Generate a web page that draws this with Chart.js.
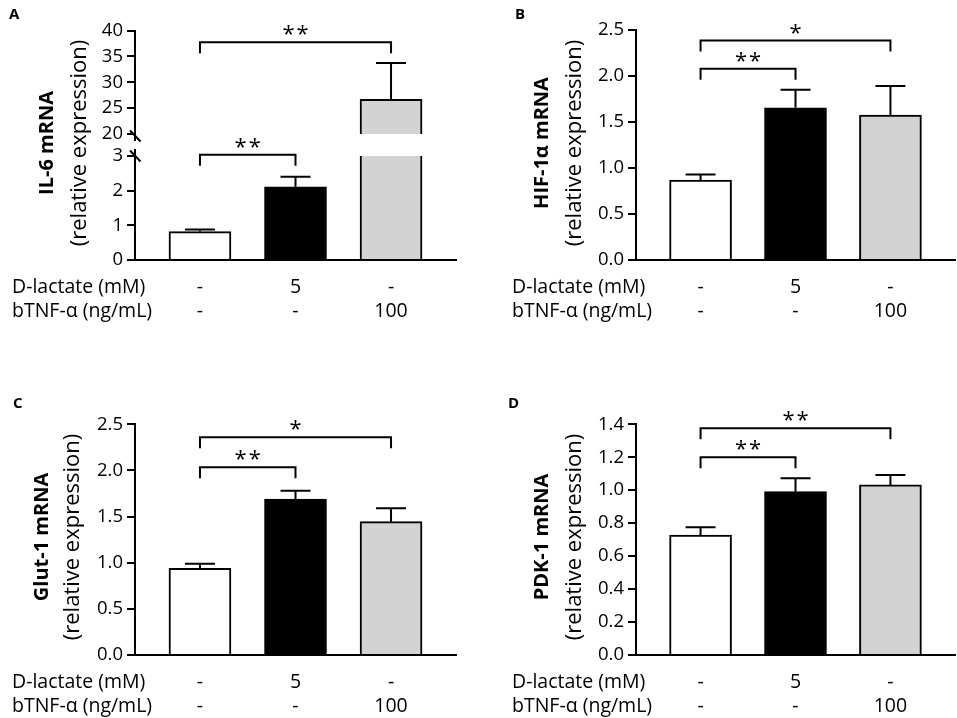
<!DOCTYPE html>
<html>
<head>
<meta charset="utf-8">
<script src="https://cdn.jsdelivr.net/npm/chart.js@4.4.1/dist/chart.umd.min.js"></script>
<style>
  body { margin: 0; background: #fff; }
  #fig { position: relative; width: 957px; height: 718px; }
  canvas { position: absolute; }
</style>
</head>
<body>
<div id="fig">
  <canvas id="il6Top" width="478" height="340" style="left:0;top:0"></canvas>
  <canvas id="il6Bottom" width="478" height="340" style="left:0;top:0"></canvas>
  <canvas id="hif1a" width="477" height="340" style="left:480px;top:0"></canvas>
  <canvas id="glut1" width="478" height="338" style="left:0;top:380px"></canvas>
  <canvas id="pdk1" width="477" height="338" style="left:480px;top:380px"></canvas>
</div>
<script>
// treatment groups and the two dose rows under the x axis
const groups = [0, 1, 2]
const doseLabels = ["D-lactate (mM)", "bTNF-α (ng/mL)"]
const lactateRow = ["-", "5", "-"]
const tnfRow = ["-", "-", "100"]
const barColors = ["#ffffff", "#000000", "#d3d3d3"]

// IL-6 (broken axis)
const il6Mean = [0.82, 2.11, 26.7]
const il6Sem = [0.06, 0.29, 7.0]
const il6SigFrom = [0, 0]
const il6SigTo = [1, 2]
const il6SigLevel = [3.03, 37.75]
const il6SigText = ["**", "**"]
const il6TicksLow = [0, 1, 2, 3]
const il6TicksHigh = [20, 25, 30, 35, 40]

// HIF-1a
const hifMean = [0.87, 1.655, 1.575]
const hifSem = [0.06, 0.195, 0.315]
const hifSigFrom = [0, 0]
const hifSigTo = [1, 2]
const hifSigLevel = [2.08, 2.385]
const hifSigText = ["**", "*"]

// Glut-1
const glutMean = [0.94, 1.69, 1.445]
const glutSem = [0.05, 0.09, 0.145]
const glutSigFrom = [0, 0]
const glutSigTo = [1, 2]
const glutSigLevel = [2.035, 2.36]
const glutSigText = ["**", "*"]

// PDK-1
const pdkMean = [0.728, 0.991, 1.032]
const pdkSem = [0.047, 0.081, 0.06]
const pdkSigFrom = [0, 0]
const pdkSigTo = [1, 2]
const pdkSigLevel = [1.2, 1.376]
const pdkSigText = ["**", "**"]

const ticks05 = [0, 0.5, 1, 1.5, 2, 2.5]
const ticks02 = [0, 0.2, 0.4, 0.6, 0.8, 1.0, 1.2, 1.4]

const FONT = "'Open Sans', sans-serif"

function barPanel(canvasId, p) {
  const canvas = document.getElementById(canvasId)
  const W = canvas.width
  const H = canvas.height

  const decor = {
    id: "decor",
    afterDraw(chart) {
      const ctx = chart.ctx
      const xs = chart.scales.x
      const ys = chart.scales.y
      const area = chart.chartArea
      ctx.save()
      ctx.strokeStyle = "#000"
      ctx.fillStyle = "#000"
      ctx.lineWidth = 2

      // error bars, upper side only
      p.mean.forEach((m, i) => {
        const top = m + p.sem[i]
        if (m < ys.min || top > ys.max) return
        const cx = xs.getPixelForValue(groups[i])
        const y0 = ys.getPixelForValue(m)
        const y1 = ys.getPixelForValue(top)
        ctx.beginPath()
        ctx.moveTo(cx, y0)
        ctx.lineTo(cx, y1)
        ctx.moveTo(cx - 15, y1)
        ctx.lineTo(cx + 15, y1)
        ctx.stroke()
      })

      // significance brackets
      p.sigLevel.forEach((lv, k) => {
        if (lv < ys.min || lv > ys.max) return
        const xa = xs.getPixelForValue(p.sigFrom[k])
        const xb = xs.getPixelForValue(p.sigTo[k])
        const yl = ys.getPixelForValue(lv)
        ctx.beginPath()
        ctx.moveTo(xa, yl + 11)
        ctx.lineTo(xa, yl)
        ctx.lineTo(xb, yl)
        ctx.lineTo(xb, yl + 11)
        ctx.stroke()
        ctx.font = "22px " + FONT
        ctx.letterSpacing = "2px"
        ctx.textAlign = "center"
        ctx.textBaseline = "alphabetic"
        ctx.fillText(p.sigText[k], (xa + xb) / 2 + 1, yl - 1)
        ctx.letterSpacing = "0px"
      })

      // axis break marks
      if (p.breakAt) {
        const by = p.breakAt === "bottom" ? area.bottom - 4 : area.top + 6
        ctx.beginPath()
        ctx.moveTo(area.left - 5, by - 5.5)
        ctx.lineTo(area.left + 5.5, by + 5.5)
        ctx.stroke()
      }

      // dose rows
      if (p.rows) {
        ctx.font = "19.5px " + FONT
        ctx.textBaseline = "middle"
        ctx.textAlign = "left"
        ctx.fillText(doseLabels[0], p.rowLabelX, area.bottom + 27)
        ctx.fillText(doseLabels[1], p.rowLabelX, area.bottom + 51)
        ctx.textAlign = "center"
        groups.forEach((g, i) => {
          const cx = xs.getPixelForValue(g)
          ctx.fillText(lactateRow[i], cx, area.bottom + 27)
          ctx.fillText(tnfRow[i], cx, area.bottom + 51)
        })
      }

      // y axis title, two lines
      if (p.title) {
        const ty = p.titleY
        ctx.textAlign = "center"
        ctx.textBaseline = "middle"
        ctx.save()
        ctx.translate(area.left + p.titleDx[0], ty)
        ctx.rotate(-Math.PI / 2)
        ctx.font = "bold 20px " + FONT
        ctx.fillText(p.title, 0, 0)
        ctx.restore()
        ctx.save()
        ctx.translate(area.left + p.titleDx[1], ty)
        ctx.rotate(-Math.PI / 2)
        ctx.font = "22px " + FONT
        ctx.fillText("(relative expression)", 0, 0)
        ctx.restore()
      }

      // panel letter
      if (p.letter) {
        ctx.font = "bold 15px " + FONT
        ctx.textAlign = "left"
        ctx.textBaseline = "alphabetic"
        ctx.fillText(p.letter, p.letterX, p.letterY)
      }
      ctx.restore()
    },
  }

  const config = {
    type: "bar",
    data: {
      datasets: [
        {
          data: groups.map((g, i) => ({ x: g, y: p.mean[i] })),
          backgroundColor: barColors,
          borderColor: "#000",
          borderWidth: 2,
          barThickness: 62,
          clip: p.clip,
        },
      ],
    },
    options: {
      responsive: false,
      animation: false,
      layout: {
        padding: { left: 0, top: p.top, right: W - p.right, bottom: H - p.bottom },
      },
      plugins: {
        legend: { display: false },
        tooltip: { enabled: false },
      },
      scales: {
        x: {
          type: "linear",
          min: -0.68,
          max: 2.68,
          offset: false,
          display: p.showX,
          ticks: { display: false },
          grid: { display: false },
          border: { display: true, color: "#000", width: 2 },
          afterFit: (s) => { s.height = 0 },
          z: 1,
        },
        y: {
          min: p.yMin,
          max: p.yMax,
          afterBuildTicks: (s) => { s.ticks = p.ticks.map((v) => ({ value: v })) },
          afterFit: (s) => { s.width = p.left },
          ticks: {
            color: "#000",
            font: { family: FONT, size: 18.5 },
            padding: 4,
            callback: (v) => (p.decimals ? Number(v).toFixed(p.decimals) : String(v)),
          },
          grid: { drawOnChartArea: false, color: "#000", lineWidth: 2, tickLength: 8 },
          border: { color: "#000", width: 2 },
          z: 1,
        },
      },
    },
    plugins: [decor],
  }
  new Chart(canvas, config)
}

// panel A, upper part of the broken axis
barPanel("il6Top", {
  mean: il6Mean, sem: il6Sem,
  sigFrom: il6SigFrom, sigTo: il6SigTo, sigLevel: il6SigLevel, sigText: il6SigText,
  yMin: 18.85, yMax: 40, ticks: il6TicksHigh, decimals: 0,
  left: 135, right: 456, top: 30.5, bottom: 140,
  showX: false, clip: { left: 0, right: 0, top: 0, bottom: -6 },
  breakAt: "bottom",
})

// panel A, lower part
barPanel("il6Bottom", {
  mean: il6Mean, sem: il6Sem,
  sigFrom: il6SigFrom, sigTo: il6SigTo, sigLevel: il6SigLevel, sigText: il6SigText,
  yMin: 0, yMax: 3.17, ticks: il6TicksLow, decimals: 0,
  left: 135, right: 456, top: 150, bottom: 260,
  showX: true, clip: { left: 0, right: 0, top: -6, bottom: 0 },
  breakAt: "top",
  rows: true, rowLabelX: 12,
  title: "IL-6 mRNA", titleDx: [-88, -55], titleY: 143,
  letter: "A", letterX: 9, letterY: 19,
})

barPanel("hif1a", {
  mean: hifMean, sem: hifSem,
  sigFrom: hifSigFrom, sigTo: hifSigTo, sigLevel: hifSigLevel, sigText: hifSigText,
  yMin: 0, yMax: 2.5, ticks: ticks05, decimals: 1,
  left: 156, right: 475, top: 30, bottom: 260,
  showX: true,
  rows: true, rowLabelX: 32,
  title: "HIF-1α mRNA", titleDx: [-94, -61], titleY: 143,
  letter: "B", letterX: 35, letterY: 19,
})

barPanel("glut1", {
  mean: glutMean, sem: glutSem,
  sigFrom: glutSigFrom, sigTo: glutSigTo, sigLevel: glutSigLevel, sigText: glutSigText,
  yMin: 0, yMax: 2.5, ticks: ticks05, decimals: 1,
  left: 135, right: 456, top: 44.3, bottom: 275,
  showX: true,
  rows: true, rowLabelX: 12,
  title: "Glut-1 mRNA", titleDx: [-93, -62], titleY: 157,
  letter: "C", letterX: 13, letterY: 28,
})

barPanel("pdk1", {
  mean: pdkMean, sem: pdkSem,
  sigFrom: pdkSigFrom, sigTo: pdkSigTo, sigLevel: pdkSigLevel, sigText: pdkSigText,
  yMin: 0, yMax: 1.4, ticks: ticks02, decimals: 1,
  left: 156, right: 475, top: 44.3, bottom: 275,
  showX: true,
  rows: true, rowLabelX: 32,
  title: "PDK-1 mRNA", titleDx: [-94, -61], titleY: 157,
  letter: "D", letterX: 28, letterY: 28,
})
</script>
</body>
</html>
